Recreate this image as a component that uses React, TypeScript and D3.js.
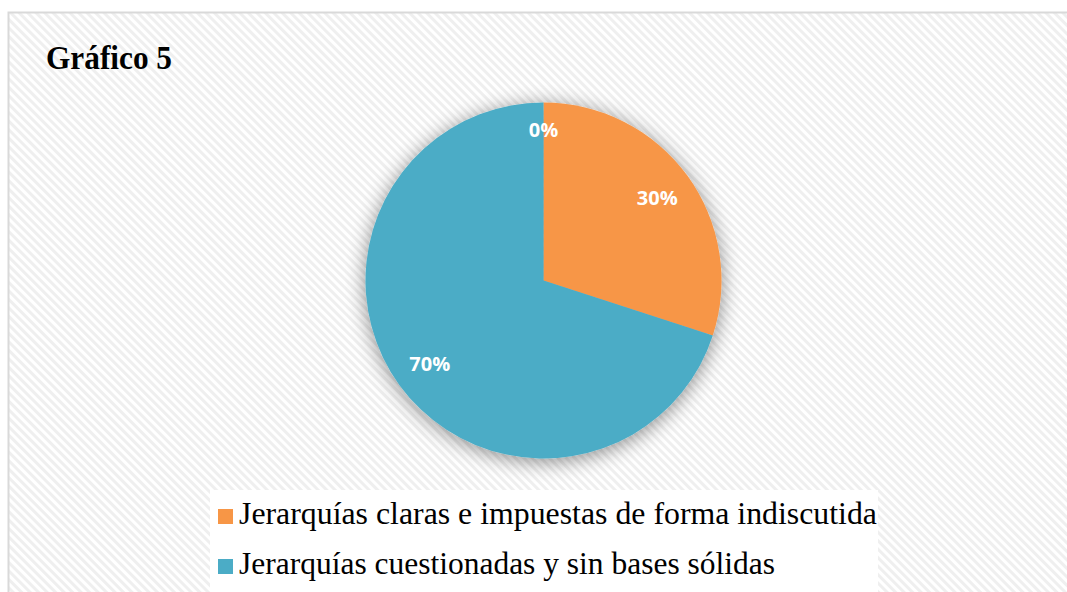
import React from "react";
import * as d3 from "d3";

const categories = [
  "Jerarquías claras e impuestas de forma indiscutida",
  "Jerarquías cuestionadas y sin bases sólidas",
  "",
];
const values = [30, 70, 0];
const colors = ["#F79646", "#4BACC6", "#A5A5A5"];
const title = "Gráfico 5";

export default function App() {
  const W = 1067;
  const H = 592;
  const cx = 543.5;
  const cy = 280.5;
  const r = 178;
  const total = d3.sum(values);
  const pie = d3.pie<number>().sort(null).value((d) => d);
  const arcs = pie(values);
  const arcGen = d3.arc<d3.PieArcDatum<number>>().innerRadius(0).outerRadius(r);
  const pct = d3.format(".0%");
  const legendItems = categories
    .map((c, i) => ({ c, i }))
    .filter((d) => d.c !== "");
  const legendWidths = [638, 536];
  return (
    <svg
      width={W}
      height={H}
      style={{ position: "absolute", left: 0, top: 0, display: "block" }}
    >
      <defs>
        <pattern
          id="hatch"
          width="6"
          height="6"
          patternUnits="userSpaceOnUse"
          patternTransform="rotate(45)"
        >
          <rect width="6" height="6" fill="#ffffff" />
          <rect width="6" height="3" fill="#efefef" />
        </pattern>
        <filter id="glow" x="-30%" y="-30%" width="160%" height="160%">
          <feGaussianBlur in="SourceAlpha" stdDeviation="10" />
          <feOffset dx="0" dy="3" result="b" />
          <feComponentTransfer>
            <feFuncA type="linear" slope="0.45" />
          </feComponentTransfer>
          <feMerge>
            <feMergeNode />
            <feMergeNode in="SourceGraphic" />
          </feMerge>
        </filter>
      </defs>
      <rect x={0} y={0} width={W} height={H} fill="#ffffff" />
      <rect
        x={8.5}
        y={12.5}
        width={W + 20}
        height={H + 20}
        fill="url(#hatch)"
        stroke="#d9d9d9"
        strokeWidth={2}
      />
      <text
        x={46}
        y={69}
        fontFamily="'Liberation Serif', 'Times New Roman', serif"
        fontWeight="bold"
        fontSize={33}
        textLength={126}
        lengthAdjust="spacingAndGlyphs"
        fill="#000"
      >
        {title}
      </text>
      <g transform={`translate(${cx},${cy})`}>
        <g filter="url(#glow)">
          {arcs.map((a, i) => (
            <path key={i} d={arcGen(a) || ""} fill={colors[i]} />
          ))}
        </g>
        {arcs.map((a, i) => {
          const mid = (a.startAngle + a.endAngle) / 2;
          const lr = a.value === 0 ? r * 0.85 : r * 0.79;
          const x = Math.sin(mid) * lr;
          const y = -Math.cos(mid) * lr;
          return (
            <text
              key={"l" + i}
              x={x}
              y={y}
              textAnchor="middle"
              dominantBaseline="central"
              fontFamily="'Open Sans', 'Noto Sans', sans-serif"
              fontWeight="bold"
              fontSize={20}
              fill="#ffffff"
            >
              {pct(total ? a.value / total : 0)}
            </text>
          );
        })}
      </g>
      <rect x={210} y={490} width={668} height={H - 490} fill="#ffffff" />
      {legendItems.map((d, k) => (
        <g key={d.c} transform={`translate(218, ${524 + k * 50})`}>
          <rect x={0} y={-15} width={15} height={15} fill={colors[d.i]} />
          <text
            x={21}
            y={0}
            fontFamily="'Liberation Serif', 'Times New Roman', serif"
            fontSize={31}
            textLength={legendWidths[k]}
            lengthAdjust="spacingAndGlyphs"
            fill="#000"
          >
            {d.c}
          </text>
        </g>
      ))}
    </svg>
  );
}
